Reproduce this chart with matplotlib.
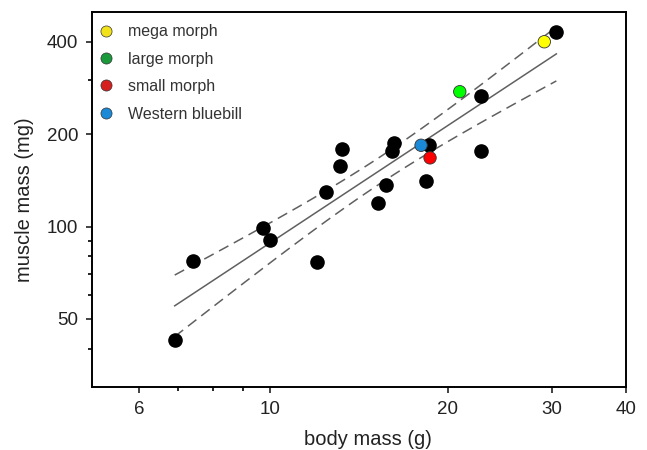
import matplotlib
matplotlib.use('Agg')
import matplotlib.pyplot as plt
from matplotlib.lines import Line2D
from matplotlib.ticker import FixedLocator, NullFormatter
import numpy as np

plt.rcParams['font.family'] = ['Liberation Sans', 'DejaVu Sans']

# body mass (g) and muscle mass (mg)
black_x = [6.9, 7.4, 9.73, 10.0, 12.0, 12.42, 13.13, 13.22, 15.21, 15.73,
           16.08, 16.23, 18.34, 18.6, 22.75, 22.75, 30.5]
black_y = [42.6, 77.2, 98.8, 90.5, 76.6, 129.9, 157.0, 178.6, 119.0, 136.9,
           176.8, 186.9, 141.1, 184.0, 267.0, 176.8, 431.0]

morph_names = ['mega morph', 'large morph', 'small morph', 'Western bluebill']
morph_x = [29.1, 20.94, 18.65, 18.01]
morph_y = [400.0, 275.0, 167.4, 184.0]
morph_colors = ['#ffff00', '#00ff00', '#ff0000', '#1a8ad8']
legend_colors = ['#f2e21a', '#1a9a3a', '#d62020', '#1a8ad8']

# regression on log-log data with 95% confidence band
all_x = np.array(black_x + morph_x)
all_y = np.array(black_y + morph_y)
lx, ly = np.log10(all_x), np.log10(all_y)
n = len(lx)
slope, icpt = np.polyfit(lx, ly, 1)
resid = ly - (slope * lx + icpt)
s = np.sqrt(np.sum(resid ** 2) / (n - 2))
t95 = 2.093  # t(0.975, df=19)
gx = np.linspace(lx.min(), lx.max(), 100)
gy = slope * gx + icpt
se = s * np.sqrt(1 / n + (gx - lx.mean()) ** 2 / np.sum((lx - lx.mean()) ** 2))

fig = plt.figure(figsize=(6.47, 4.5), dpi=100)
ax = fig.add_axes([0.1422, 0.14, 0.8253, 0.8333])

ax.plot(10 ** gx, 10 ** gy, color='#606060', lw=1.1, zorder=2)
ax.plot(10 ** gx, 10 ** (gy + t95 * se), color='#606060', lw=1.1,
        dashes=(7, 4), zorder=2)
ax.plot(10 ** gx, 10 ** (gy - t95 * se), color='#606060', lw=1.1,
        dashes=(7, 4), zorder=2)

ax.scatter(black_x, black_y, s=90, color='black', zorder=3)
ax.scatter(morph_x, morph_y, s=80, c=morph_colors, edgecolors='#333333',
           linewidths=0.6, zorder=4)

ax.set_xscale('log')
ax.set_yscale('log')
ax.set_xlim(5, 40)
ax.set_ylim(30, 500)

ax.xaxis.set_major_locator(FixedLocator([6, 10, 20, 30, 40]))
ax.xaxis.set_minor_locator(FixedLocator([7, 8, 9]))
ax.set_xticklabels(['6', '10', '20', '30', '40'])
ax.xaxis.set_minor_formatter(NullFormatter())
ax.yaxis.set_major_locator(FixedLocator([50, 100, 200, 400]))
ax.yaxis.set_minor_locator(FixedLocator([40, 60, 70, 80, 90, 300]))
ax.set_yticklabels(['50', '100', '200', '400'])
ax.yaxis.set_minor_formatter(NullFormatter())

ax.tick_params(which='major', length=4, width=1.2, labelsize=13.5,
               colors='#222222', pad=6)
ax.tick_params(which='minor', length=3, width=1.2)
for sp in ax.spines.values():
    sp.set_linewidth(1.4)

ax.set_xlabel('body mass (g)', fontsize=14.5, color='#222222')
ax.xaxis.set_label_coords(0.517, -0.115)
ax.set_ylabel('muscle mass (mg)', fontsize=14.5, color='#222222', labelpad=9)

handles = [Line2D([], [], ls='none', marker='o', markersize=8,
                  markerfacecolor=c, markeredgecolor='#333333',
                  markeredgewidth=0.5) for c in legend_colors]
ax.legend(handles, morph_names, loc='upper left', bbox_to_anchor=(0, 0.989),
          frameon=False, fontsize=11.5, labelcolor='#333333',
          handletextpad=0.95, labelspacing=0.78, borderaxespad=0.1,
          handlelength=0.8)

fig.savefig('out.png', dpi=100)
